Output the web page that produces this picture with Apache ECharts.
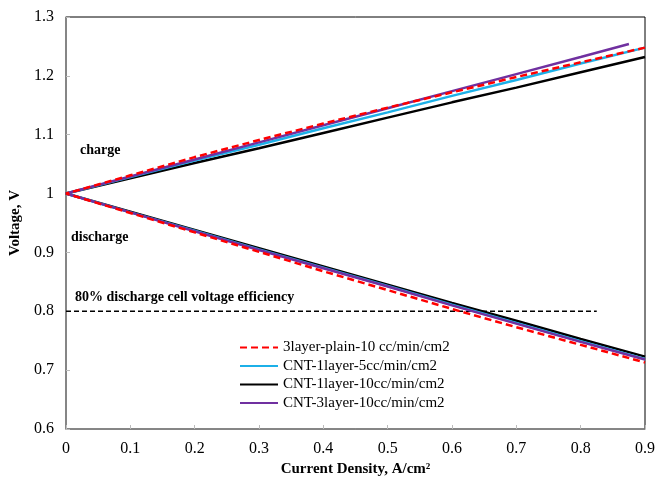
<!DOCTYPE html>
<html><head><meta charset="utf-8">
<script src="https://cdn.jsdelivr.net/npm/echarts@6/dist/echarts.min.js"></script>
<style>html,body{margin:0;padding:0;background:#fff}#c{width:658px;height:482px}</style>
</head><body><div id="c"></div>
<script>
var xs = [0, 0.1, 0.2, 0.3, 0.4, 0.5, 0.6, 0.7, 0.8, 0.9];
var xsPurple = [0, 0.1, 0.2, 0.3, 0.4, 0.5, 0.6, 0.7, 0.8, 0.875];
var seriesNames = ['3layer-plain-10 cc/min/cm2', 'CNT-1layer-5cc/min/cm2', 'CNT-1layer-10cc/min/cm2', 'CNT-3layer-10cc/min/cm2'];
var redCharge    = [1.0, 1.031, 1.062, 1.091, 1.119, 1.146, 1.172, 1.198, 1.223, 1.248];
var redDis       = [1.0, 0.967, 0.934, 0.901, 0.868, 0.836, 0.804, 0.773, 0.743, 0.713];
var cyanCharge   = [1.0, 1.028, 1.056, 1.083, 1.111, 1.138, 1.166, 1.193, 1.221, 1.248];
var cyanDis      = [1.0, 0.968, 0.937, 0.905, 0.874, 0.843, 0.811, 0.780, 0.749, 0.719];
var blackCharge  = [1.0, 1.026, 1.052, 1.077, 1.103, 1.129, 1.155, 1.180, 1.206, 1.232];
var blackDis     = [1.0, 0.969, 0.938, 0.907, 0.876, 0.845, 0.814, 0.784, 0.753, 0.723];
var purpleCharge = [1.0, 1.029, 1.058, 1.087, 1.116, 1.145, 1.174, 1.203, 1.232, 1.254];
var purpleDis    = [1.0, 0.968, 0.936, 0.904, 0.873, 0.842, 0.810, 0.779, 0.748, 0.718];
var effX = [0, 0.825];
var effY = [0.8, 0.8];

function build(xc, charge, xd, dis) {
  var pts = [];
  for (var i = charge.length - 1; i >= 0; i--) pts.push([xc[i], charge[i]]);
  for (var j = 1; j < dis.length; j++) pts.push([xd[j], dis[j]]);
  return pts;
}
var font = '"Liberation Serif", "Times New Roman", serif';
var chart = echarts.init(document.getElementById('c'), null, {renderer: 'canvas'});
chart.setOption({
  animation: false,
  backgroundColor: '#fff',
  grid: {left: 66, right: 11, top: 17, bottom: 53, show: true, borderColor: '#000', borderWidth: 1, backgroundColor: 'transparent'},
  xAxis: {
    type: 'value', min: 0, max: 0.9, interval: 0.1,
    name: 'Current Density, A/cm²', nameLocation: 'middle', nameGap: 33,
    nameTextStyle: {fontFamily: font, fontWeight: 'bold', fontSize: 15, color: '#000'},
    axisLine: {show: true, lineStyle: {color: '#888', width: 1.5}},
    axisTick: {show: true, inside: true, length: 4, lineStyle: {color: '#bbb'}},
    splitLine: {show: false},
    axisLabel: {fontFamily: font, fontSize: 16, color: '#000', margin: 12,
      formatter: function (v) { return (Math.round(v * 10) / 10).toString(); }}
  },
  yAxis: {
    type: 'value', min: 0.6, max: 1.3, interval: 0.1,
    name: 'Voltage, V', nameLocation: 'middle', nameGap: 38,
    nameTextStyle: {fontFamily: font, fontWeight: 'bold', fontSize: 15, color: '#000'},
    axisLine: {show: true, lineStyle: {color: '#888', width: 1.5}},
    axisTick: {show: true, inside: true, length: 4, lineStyle: {color: '#bbb'}},
    splitLine: {show: false},
    axisLabel: {fontFamily: font, fontSize: 16, color: '#000', margin: 12,
      formatter: function (v) { return (Math.round(v * 10) / 10).toString(); }}
  },
  legend: {
    show: true, orient: 'vertical', left: 234, top: 335, itemGap: 3.5, itemWidth: 38, itemHeight: 14,
    itemStyle: {opacity: 0},
    textStyle: {fontFamily: font, fontSize: 15, color: '#000'},
    data: seriesNames
  },
  graphic: [
    {type: 'text', left: 80, top: 143, style: {text: 'charge', font: 'bold 14px ' + font, fill: '#000'}},
    {type: 'text', left: 71, top: 230, style: {text: 'discharge', font: 'bold 14px ' + font, fill: '#000'}},
    {type: 'text', left: 75, top: 290, style: {text: '80% discharge cell voltage efficiency', font: 'bold 14px ' + font, fill: '#000'}}
  ],
  series: [
    {name: 'eff', type: 'line', data: effX.map(function (x, i) { return [x, effY[i]]; }), symbol: 'none',
      lineStyle: {color: '#000', width: 1.5, type: [5, 3]}, silent: true, z: 1},
    {name: seriesNames[0], type: 'line', data: build(xs, redCharge, xs, redDis), symbol: 'none',
      itemStyle: {color: '#ff0000'}, lineStyle: {color: '#ff0000', width: 2.5, type: [7, 4]}, z: 5},
    {name: seriesNames[1], type: 'line', data: build(xs, cyanCharge, xs, cyanDis), symbol: 'none',
      itemStyle: {color: '#1cb0e8'}, lineStyle: {color: '#1cb0e8', width: 2.5}, z: 3},
    {name: seriesNames[2], type: 'line', data: build(xs, blackCharge, xs, blackDis), symbol: 'none',
      itemStyle: {color: '#000'}, lineStyle: {color: '#000', width: 2.5}, z: 2},
    {name: seriesNames[3], type: 'line', data: build(xsPurple, purpleCharge, xs, purpleDis), symbol: 'none',
      itemStyle: {color: '#7030a0'}, lineStyle: {color: '#7030a0', width: 2.5}, z: 4}
  ]
});
</script></body></html>
